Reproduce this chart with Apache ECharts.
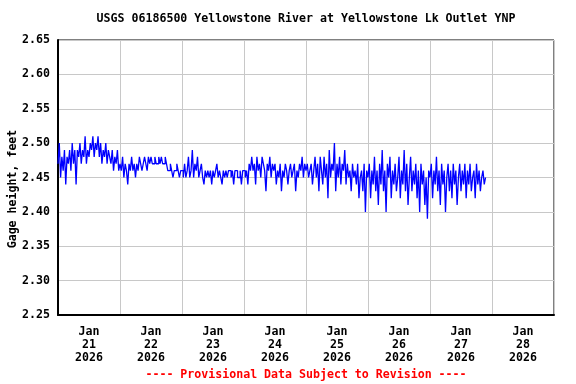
<!DOCTYPE html>
<html>
<head>
<meta charset="utf-8">
<script src="https://cdn.jsdelivr.net/npm/echarts@6/dist/echarts.min.js"></script>
<style>html,body{margin:0;padding:0;background:#fff}#c{width:576px;height:384px}</style>
</head>
<body>
<div id="c"></div>
<script>
var titleText = 'USGS 06186500 Yellowstone River at Yellowstone Lk Outlet YNP';
var yAxisName = 'Gage height, feet';
var footerText = '---- Provisional Data Subject to Revision ----';
var dayLabels = ['21','22','23','24','25','26','27','28'];
var monthLabel = 'Jan';
var yearLabel = '2026';
var yTicks = [2.25, 2.65, 0.05];
var stepMinutes = 30;

// Gage height, feet, half-hourly readings
var jan21 = [2.47,2.50,2.45,2.48,2.46,2.49,2.44,2.48,2.47,2.49,2.46,2.50,2.47,2.49,2.44,2.49,2.48,2.50,2.47,2.49,2.48,2.51,2.47,2.49,2.48,2.50,2.49,2.51,2.48,2.50,2.49,2.51,2.48,2.50,2.47,2.49,2.48,2.50,2.47,2.49,2.48,2.47,2.49,2.46,2.48,2.47,2.49,2.46];
var jan22 = [2.47,2.46,2.48,2.45,2.47,2.46,2.44,2.47,2.46,2.48,2.46,2.47,2.45,2.47,2.46,2.48,2.47,2.46,2.47,2.48,2.47,2.46,2.48,2.47,2.48,2.47,2.47,2.48,2.47,2.47,2.48,2.47,2.48,2.47,2.47,2.48,2.47,2.46,2.46,2.47,2.46,2.45,2.46,2.46,2.47,2.46,2.45,2.46];
var jan23 = [2.46,2.45,2.47,2.45,2.46,2.48,2.45,2.46,2.49,2.45,2.47,2.46,2.48,2.45,2.46,2.47,2.45,2.44,2.46,2.45,2.46,2.45,2.46,2.44,2.46,2.45,2.46,2.47,2.45,2.46,2.45,2.44,2.46,2.45,2.46,2.45,2.46,2.46,2.45,2.46,2.44,2.46,2.46,2.45,2.45,2.46,2.44,2.46];
var jan24 = [2.46,2.45,2.46,2.44,2.47,2.46,2.48,2.46,2.47,2.44,2.48,2.46,2.47,2.45,2.48,2.47,2.46,2.43,2.47,2.46,2.48,2.45,2.47,2.46,2.47,2.44,2.46,2.45,2.47,2.43,2.46,2.45,2.47,2.46,2.44,2.46,2.47,2.45,2.46,2.47,2.43,2.46,2.45,2.47,2.46,2.48,2.45,2.47];
var jan25 = [2.46,2.47,2.45,2.46,2.47,2.44,2.46,2.48,2.45,2.47,2.43,2.48,2.46,2.44,2.48,2.45,2.47,2.42,2.49,2.45,2.47,2.46,2.50,2.43,2.47,2.45,2.48,2.44,2.47,2.46,2.49,2.44,2.47,2.45,2.46,2.43,2.47,2.45,2.46,2.44,2.47,2.42,2.45,2.46,2.43,2.47,2.40,2.46];
var jan26 = [2.45,2.47,2.42,2.46,2.44,2.48,2.43,2.46,2.41,2.47,2.44,2.49,2.43,2.46,2.40,2.47,2.45,2.48,2.42,2.46,2.44,2.47,2.43,2.45,2.48,2.42,2.46,2.44,2.49,2.43,2.47,2.41,2.45,2.48,2.43,2.46,2.44,2.47,2.42,2.46,2.40,2.47,2.44,2.46,2.41,2.45,2.39,2.46];
var jan27 = [2.45,2.47,2.42,2.46,2.44,2.48,2.43,2.46,2.41,2.47,2.44,2.46,2.40,2.45,2.47,2.43,2.46,2.42,2.47,2.44,2.46,2.41,2.45,2.47,2.43,2.46,2.44,2.47,2.42,2.46,2.44,2.47,2.43,2.45,2.46,2.42,2.47,2.44,2.46,2.43,2.45,2.46,2.44,2.45];

var days = [jan21, jan22, jan23, jan24, jan25, jan26, jan27];
var DAY = 86400000;
var t0 = Date.UTC(2026, 0, 21);
var series = [];
days.forEach(function (arr, d) {
  arr.forEach(function (v, i) {
    series.push([t0 + d * DAY + i * stepMinutes * 60000, v]);
  });
});
var cats = dayLabels.map(function (d) { return monthLabel + '\n' + d + '\n' + yearLabel; });

var FONT = 'DejaVu Sans Mono';
var FS = 11.6;
var chart = echarts.init(document.getElementById('c'), null, {renderer: 'canvas'});
chart.setOption({
  animation: false,
  backgroundColor: '#fff',
  grid: {left: 58, top: 40, right: 22, bottom: 69, show: true, borderColor: '#000', borderWidth: 1, backgroundColor: 'transparent'},
  xAxis: [{
    type: 'value', min: t0, max: t0 + 8 * DAY, interval: DAY,
    axisLine: {show: true, onZero: false, lineStyle: {color: '#000', width: 2}},
    axisTick: {show: false}, axisLabel: {show: false},
    splitLine: {show: true, lineStyle: {color: '#c8c8c8', width: 1}}
  }, {
    type: 'category', data: cats, boundaryGap: true, position: 'bottom',
    axisLine: {show: false}, axisTick: {show: false}, splitLine: {show: false},
    axisLabel: {show: true, interval: 0, margin: 10, color: '#000', fontFamily: FONT, fontWeight: 'bold', fontSize: FS, lineHeight: 13}
  }],
  yAxis: {
    type: 'value', min: yTicks[0], max: yTicks[1], interval: yTicks[2],
    axisLine: {show: true, lineStyle: {color: '#000', width: 2}},
    axisTick: {show: false},
    axisLabel: {margin: 8, color: '#000', fontFamily: FONT, fontWeight: 'bold', fontSize: FS, formatter: function (v) { return v.toFixed(2); }},
    splitLine: {show: true, lineStyle: {color: '#c8c8c8', width: 1}}
  },
  graphic: [
    {type: 'text', x: 306, y: 19, style: {text: titleText, align: 'center', verticalAlign: 'middle', fill: '#000', font: 'bold ' + FS + 'px "' + FONT + '"'}},
    {type: 'text', x: 13, y: 189, rotation: Math.PI / 2, style: {text: yAxisName, align: 'center', verticalAlign: 'middle', fill: '#000', font: 'bold ' + FS + 'px "' + FONT + '"'}},
    {type: 'text', x: 306, y: 375, style: {text: footerText, align: 'center', verticalAlign: 'middle', fill: '#ff0000', font: 'bold ' + FS + 'px "' + FONT + '"'}}
  ],
  series: [{
    type: 'line', xAxisIndex: 0, data: series, showSymbol: false, step: 'end',
    lineStyle: {color: '#0000ff', width: 1.3}, itemStyle: {color: '#0000ff'}
  }]
});
</script>
</body>
</html>
